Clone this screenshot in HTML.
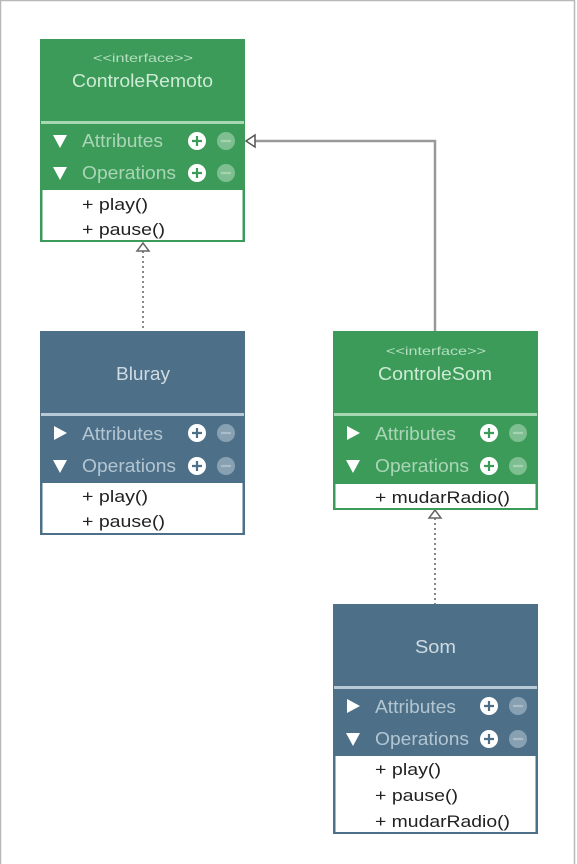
<!DOCTYPE html>
<html><head><meta charset="utf-8"><style>
html,body{margin:0;padding:0;background:#fff;}
svg{display:block;font-family:"Liberation Sans",sans-serif;}
</style></head><body>
<svg width="577" height="864" viewBox="0 0 577 864" xmlns="http://www.w3.org/2000/svg">
<rect x="0.5" y="0.5" width="574" height="870" fill="#fff" stroke="#b8b8b8" stroke-width="1.5"/>
<defs>
<g id="pg"><circle r="9" fill="#fff"/><path d="M-5 0H5M0 -5V5" stroke="#3d9b5a" stroke-width="2.2"/></g>
<g id="mg"><circle r="9" fill="#7dbf90"/><path d="M-5 0H5" stroke="#a6d4b3" stroke-width="2.2"/></g>
<g id="ps"><circle r="9" fill="#fff"/><path d="M-5 0H5M0 -5V5" stroke="#4d7088" stroke-width="2.2"/></g>
<g id="ms"><circle r="9" fill="#87a1b2"/><path d="M-5 0H5" stroke="#a9bcc8" stroke-width="2.2"/></g>
</defs>

<line x1="143" y1="251" x2="143" y2="331" stroke="#888" stroke-width="2" stroke-dasharray="2,3"/>
<path d="M137 251 L143 243 L149 251 Z" fill="#fff" stroke="#666" stroke-width="1.5"/>
<path d="M435 331 V141 H255" fill="none" stroke="#999" stroke-width="2.5"/>
<path d="M255 135 L246 141 L255 147 Z" fill="#fff" stroke="#555" stroke-width="1.5"/>
<line x1="435" y1="518" x2="435" y2="604" stroke="#888" stroke-width="2" stroke-dasharray="2,3"/>
<path d="M429 518 L435 510 L441 518 Z" fill="#fff" stroke="#666" stroke-width="1.5"/>

<!-- ControleRemoto -->
<rect x="40" y="39" width="205" height="203" fill="#3d9b5a"/>
<rect x="41" y="121" width="203" height="3" fill="#a6d8b4"/>
<rect x="41.5" y="189" width="202" height="52" fill="#fff" stroke="#3d9b5a" stroke-width="2"/>
<text x="93" y="62" font-size="12" fill="#b3dfc0" textLength="100" lengthAdjust="spacingAndGlyphs">&lt;&lt;interface&gt;&gt;</text>
<text x="72" y="87" font-size="18" fill="#cdebd5" textLength="141" lengthAdjust="spacingAndGlyphs">ControleRemoto</text>
<path d="M53 135 L67 135 L60 148 Z" fill="#fff"/>
<text x="82" y="147" font-size="18" fill="#aad5b6" textLength="81" lengthAdjust="spacingAndGlyphs">Attributes</text>
<use href="#pg" x="197" y="141"/><use href="#mg" x="226" y="141"/>
<path d="M53 167 L67 167 L60 180 Z" fill="#fff"/>
<text x="82" y="179" font-size="18" fill="#aad5b6" textLength="94" lengthAdjust="spacingAndGlyphs">Operations</text>
<use href="#pg" x="197" y="173"/><use href="#mg" x="226" y="173"/>
<text x="82" y="210" font-size="17" fill="#222" textLength="66" lengthAdjust="spacingAndGlyphs">+ play()</text>
<text x="82" y="235" font-size="17" fill="#222" textLength="83" lengthAdjust="spacingAndGlyphs">+ pause()</text>

<!-- Bluray -->
<rect x="40" y="331" width="205" height="204" fill="#4d7088"/>
<rect x="41" y="413" width="203" height="3" fill="#b8cad6"/>
<rect x="41.5" y="482" width="202" height="52" fill="#fff" stroke="#4d7088" stroke-width="2"/>
<text x="116" y="380" font-size="18" fill="#cfdbe3" textLength="54" lengthAdjust="spacingAndGlyphs">Bluray</text>
<path d="M54 426 L67 433 L54 440 Z" fill="#fff"/>
<text x="82" y="440" font-size="18" fill="#b3c5d1" textLength="81" lengthAdjust="spacingAndGlyphs">Attributes</text>
<use href="#ps" x="197" y="433"/><use href="#ms" x="226" y="433"/>
<path d="M53 460 L67 460 L60 473 Z" fill="#fff"/>
<text x="82" y="472" font-size="18" fill="#b3c5d1" textLength="94" lengthAdjust="spacingAndGlyphs">Operations</text>
<use href="#ps" x="197" y="466"/><use href="#ms" x="226" y="466"/>
<text x="82" y="502" font-size="17" fill="#222" textLength="66" lengthAdjust="spacingAndGlyphs">+ play()</text>
<text x="82" y="527" font-size="17" fill="#222" textLength="83" lengthAdjust="spacingAndGlyphs">+ pause()</text>

<!-- ControleSom -->
<rect x="333" y="331" width="205" height="179" fill="#3d9b5a"/>
<rect x="334" y="413" width="203" height="3" fill="#a6d8b4"/>
<rect x="334.5" y="483" width="202" height="26" fill="#fff" stroke="#3d9b5a" stroke-width="2"/>
<text x="386" y="355" font-size="12" fill="#b3dfc0" textLength="100" lengthAdjust="spacingAndGlyphs">&lt;&lt;interface&gt;&gt;</text>
<text x="378" y="380" font-size="18" fill="#cdebd5" textLength="114" lengthAdjust="spacingAndGlyphs">ControleSom</text>
<path d="M347 426 L360 433 L347 440 Z" fill="#fff"/>
<text x="375" y="440" font-size="18" fill="#aad5b6" textLength="81" lengthAdjust="spacingAndGlyphs">Attributes</text>
<use href="#pg" x="489" y="433"/><use href="#mg" x="518" y="433"/>
<path d="M346 460 L360 460 L353 473 Z" fill="#fff"/>
<text x="375" y="472" font-size="18" fill="#aad5b6" textLength="94" lengthAdjust="spacingAndGlyphs">Operations</text>
<use href="#pg" x="489" y="466"/><use href="#mg" x="518" y="466"/>
<text x="375" y="503" font-size="17" fill="#222" textLength="135" lengthAdjust="spacingAndGlyphs">+ mudarRadio()</text>

<!-- Som -->
<rect x="333" y="604" width="205" height="230" fill="#4d7088"/>
<rect x="334" y="686" width="203" height="3" fill="#b8cad6"/>
<rect x="334.5" y="755" width="202" height="78" fill="#fff" stroke="#4d7088" stroke-width="2"/>
<text x="415" y="653" font-size="18" fill="#cfdbe3" textLength="41" lengthAdjust="spacingAndGlyphs">Som</text>
<path d="M347 699 L360 706 L347 713 Z" fill="#fff"/>
<text x="375" y="713" font-size="18" fill="#b3c5d1" textLength="81" lengthAdjust="spacingAndGlyphs">Attributes</text>
<use href="#ps" x="489" y="706"/><use href="#ms" x="518" y="706"/>
<path d="M346 733 L360 733 L353 746 Z" fill="#fff"/>
<text x="375" y="745" font-size="18" fill="#b3c5d1" textLength="94" lengthAdjust="spacingAndGlyphs">Operations</text>
<use href="#ps" x="489" y="739"/><use href="#ms" x="518" y="739"/>
<text x="375" y="775" font-size="17" fill="#222" textLength="66" lengthAdjust="spacingAndGlyphs">+ play()</text>
<text x="375" y="801" font-size="17" fill="#222" textLength="83" lengthAdjust="spacingAndGlyphs">+ pause()</text>
<text x="375" y="827" font-size="17" fill="#222" textLength="135" lengthAdjust="spacingAndGlyphs">+ mudarRadio()</text>
</svg>
</body></html>
